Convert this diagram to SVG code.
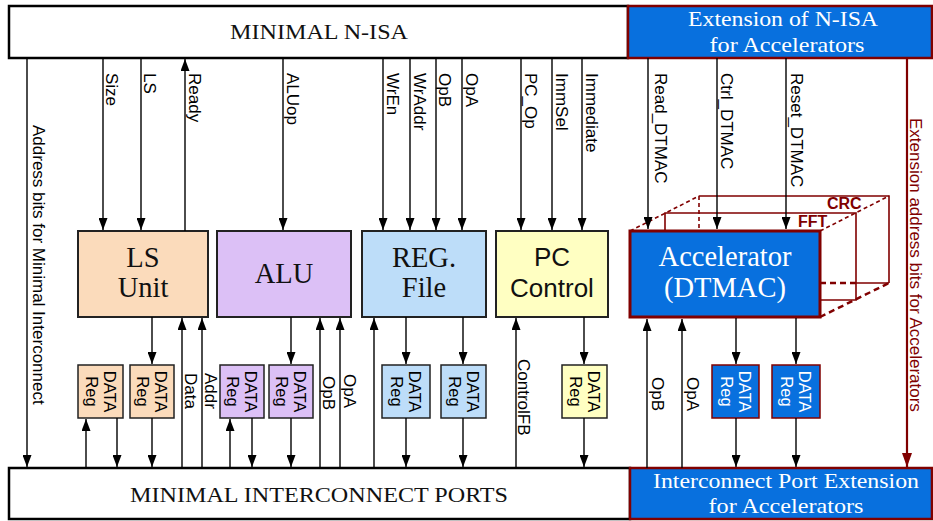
<svg xmlns="http://www.w3.org/2000/svg" width="933" height="521" viewBox="0 0 933 521">
<defs>
<marker id="ah" markerUnits="userSpaceOnUse" markerWidth="12" markerHeight="9" refX="12" refY="4.5" orient="auto" viewBox="0 0 12 9"><path d="M0,0 L12,4.5 L0,9 z" fill="#000"/></marker>
<marker id="ahr" markerUnits="userSpaceOnUse" markerWidth="14" markerHeight="10" refX="14" refY="5" orient="auto" viewBox="0 0 14 10"><path d="M0,0 L14,5 L0,10 z" fill="#800000"/></marker>
</defs>
<style>
.w{stroke:#000;stroke-width:1.4;fill:none}
.a{marker-end:url(#ah)}
.lbl{font-family:"Liberation Sans",Arial,sans-serif;font-size:17px;fill:#000}
.rl{font-family:"Liberation Sans",Arial,sans-serif;font-size:16.5px;text-anchor:middle}
.ser{font-family:"Liberation Serif","Times New Roman",serif}
.unit{stroke:#222;stroke-width:2}
.reg{stroke:#222;stroke-width:1.5}
.ut{font-size:28.5px;text-anchor:middle;fill:#111}
.bar{font-size:21px;text-anchor:middle}
.blue{fill:#0870DE;stroke:#800000}
.d3{stroke:#800000;stroke-width:1.6;fill:none}
.dash{stroke-dasharray:4 3}
.dk{stroke-dasharray:6 4;stroke-width:2.5}
.tag{font-family:"Liberation Sans",Arial,sans-serif;font-weight:bold;font-size:16px;fill:#800000}
</style>
<rect width="933" height="521" fill="#fff"/>

<g id="minimal-nisa">
<rect x="9" y="6" width="619" height="52" fill="#fff" stroke="#000" stroke-width="2.5"/>
<text class="ser bar" x="319" y="39" textLength="178" lengthAdjust="spacingAndGlyphs" fill="#111">MINIMAL N-ISA</text>
</g>
<g id="ext-nisa">
<rect class="blue" x="628" y="6" width="304" height="52" stroke-width="2.5"/>
<text class="ser bar" x="783" y="26" textLength="190" lengthAdjust="spacingAndGlyphs" fill="#fff">Extension of N-ISA</text>
<text class="ser bar" x="787" y="52" textLength="155" lengthAdjust="spacingAndGlyphs" fill="#fff">for Accelerators</text>
</g>
<g id="minimal-ports">
<rect x="9" y="468" width="621" height="51" fill="#fff" stroke="#000" stroke-width="2.5"/>
<text class="ser bar" x="319" y="502" textLength="378" lengthAdjust="spacingAndGlyphs" fill="#111">MINIMAL INTERCONNECT PORTS</text>
</g>
<g id="ext-ports">
<rect class="blue" x="630" y="468" width="302" height="51" stroke-width="2.5"/>
<text class="ser bar" x="786" y="488" textLength="266" lengthAdjust="spacingAndGlyphs" fill="#fff">Interconnect Port Extension</text>
<text class="ser bar" x="786" y="513" textLength="155" lengthAdjust="spacingAndGlyphs" fill="#fff">for Accelerators</text>
</g>

<g id="accel-stack">
<path class="d3" d="M699,196 H889 V283 M856,283 H889"/>
<path class="d3 dash" d="M699,196 V231 M630,231 L699,196 M820,231 L889,196"/>
<path class="d3" d="M665,231 V213 H856 V300 H820"/>
<path class="d3 dk" d="M820,283 H856 M820,317 L889,283"/>
<text class="tag" x="827" y="209">CRC</text>
<text class="tag" x="798" y="227">FFT</text>
</g>

<g id="ls-unit">
<rect class="unit" x="78" y="231" width="130" height="86" fill="#FBDBBB"/>
<text class="ser ut" x="143" y="267">LS</text>
<text class="ser ut" x="143" y="297">Unit</text>
</g>
<g id="alu">
<rect class="unit" x="217" y="231" width="134" height="86" fill="#DCC0F6"/>
<text class="ser ut" x="284" y="283">ALU</text>
</g>
<g id="reg-file">
<rect class="unit" x="362" y="231" width="124" height="86" fill="#BDDDF9"/>
<text class="ser ut" x="424" y="267">REG.</text>
<text class="ser ut" x="424" y="297">File</text>
</g>
<g id="pc-control">
<rect class="unit" x="496" y="231" width="112" height="86" fill="#FFFFC2"/>
<text class="ut" x="552" y="266" style="font-family:'Liberation Sans',Arial,sans-serif;font-size:26px">PC</text>
<text class="ut" x="552" y="297" style="font-family:'Liberation Sans',Arial,sans-serif;font-size:26px">Control</text>
</g>
<g id="accelerator">
<rect class="blue" x="630" y="231" width="190" height="86" stroke-width="3"/>
<text class="ser ut" x="725" y="266" style="fill:#fff">Accelerator</text>
<text class="ser ut" x="725" y="297" style="fill:#fff">(DTMAC)</text>
</g>

<g id="ls-reg1"><rect class="reg" x="78" y="365" width="45" height="53" fill="#FBDBBB"/><text class="rl" transform="translate(103.5,391.5) rotate(90)">DATA<tspan x="0" dy="18">Reg</tspan></text></g>
<g id="ls-reg2"><rect class="reg" x="130" y="365" width="44" height="53" fill="#FBDBBB"/><text class="rl" transform="translate(155,391.5) rotate(90)">DATA<tspan x="0" dy="18">Reg</tspan></text></g>
<g id="alu-reg1"><rect class="reg" x="220" y="365" width="44" height="53" fill="#DCC0F6"/><text class="rl" transform="translate(245,391.5) rotate(90)">DATA<tspan x="0" dy="18">Reg</tspan></text></g>
<g id="alu-reg2"><rect class="reg" x="269" y="365" width="44" height="53" fill="#DCC0F6"/><text class="rl" transform="translate(294,391.5) rotate(90)">DATA<tspan x="0" dy="18">Reg</tspan></text></g>
<g id="reg-reg1"><rect class="reg" x="382" y="365" width="48" height="53" fill="#BDDDF9"/><text class="rl" transform="translate(409,391.5) rotate(90)">DATA<tspan x="0" dy="18">Reg</tspan></text></g>
<g id="reg-reg2"><rect class="reg" x="441" y="365" width="45" height="53" fill="#BDDDF9"/><text class="rl" transform="translate(466.5,391.5) rotate(90)">DATA<tspan x="0" dy="18">Reg</tspan></text></g>
<g id="pc-reg"><rect class="reg" x="562" y="365" width="45" height="53" fill="#FFFFC2"/><text class="rl" transform="translate(587.5,391.5) rotate(90)">DATA<tspan x="0" dy="18">Reg</tspan></text></g>
<g id="acc-reg1"><rect class="reg blue" x="712" y="365" width="47" height="53" style="stroke:#800000"/><text class="rl" fill="#fff" transform="translate(738.5,391.5) rotate(90)">DATA<tspan x="0" dy="18">Reg</tspan></text></g>
<g id="acc-reg2"><rect class="reg blue" x="772" y="365" width="48" height="53" style="stroke:#800000"/><text class="rl" fill="#fff" transform="translate(799,391.5) rotate(90)">DATA<tspan x="0" dy="18">Reg</tspan></text></g>

<g id="connectors">
<line class="w a" x1="27" y1="58" x2="27" y2="467"/>
<line x1="907" y1="58" x2="907" y2="467" stroke="#800000" stroke-width="2.2" marker-end="url(#ahr)"/>
<line class="w a" x1="103" y1="58" x2="103" y2="230"/>
<line class="w a" x1="141" y1="58" x2="141" y2="230"/>
<line class="w a" x1="185" y1="231" x2="185" y2="59"/>
<line class="w a" x1="283" y1="58" x2="283" y2="230"/>
<line class="w a" x1="383" y1="58" x2="383" y2="230"/>
<line class="w a" x1="410" y1="58" x2="410" y2="230"/>
<line class="w a" x1="436" y1="58" x2="436" y2="230"/>
<line class="w a" x1="462" y1="58" x2="462" y2="230"/>
<line class="w a" x1="521" y1="58" x2="521" y2="230"/>
<line class="w a" x1="552" y1="58" x2="552" y2="230"/>
<line class="w a" x1="582" y1="58" x2="582" y2="230"/>
<line class="w a" x1="648" y1="58" x2="648" y2="229"/>
<line class="w a" x1="717" y1="58" x2="717" y2="229"/>
<line class="w a" x1="786" y1="58" x2="786" y2="229"/>
<line class="w a" x1="152" y1="317" x2="152" y2="364"/>
<line class="w a" x1="291" y1="317" x2="291" y2="364"/>
<line class="w a" x1="406" y1="317" x2="406" y2="364"/>
<line class="w a" x1="463" y1="317" x2="463" y2="364"/>
<line class="w a" x1="584" y1="317" x2="584" y2="364"/>
<line class="w a" x1="736" y1="318" x2="736" y2="364"/>
<line class="w a" x1="796" y1="318" x2="796" y2="364"/>
<line class="w a" x1="117" y1="418" x2="117" y2="467"/>
<line class="w a" x1="152" y1="418" x2="152" y2="467"/>
<line class="w a" x1="252" y1="418" x2="252" y2="467"/>
<line class="w a" x1="291" y1="418" x2="291" y2="467"/>
<line class="w a" x1="406" y1="418" x2="406" y2="467"/>
<line class="w a" x1="463" y1="418" x2="463" y2="467"/>
<line class="w a" x1="584" y1="418" x2="584" y2="467"/>
<line class="w a" x1="736" y1="418" x2="736" y2="467"/>
<line class="w a" x1="796" y1="418" x2="796" y2="467"/>
<line class="w a" x1="86" y1="468" x2="86" y2="419"/>
<line class="w a" x1="230" y1="468" x2="230" y2="419"/>
<line class="w a" x1="182" y1="468" x2="182" y2="318"/>
<line class="w a" x1="202" y1="468" x2="202" y2="318"/>
<line class="w a" x1="320" y1="468" x2="320" y2="318"/>
<line class="w a" x1="340" y1="468" x2="340" y2="318"/>
<line class="w a" x1="374" y1="468" x2="374" y2="318"/>
<line class="w a" x1="516" y1="468" x2="516" y2="318"/>
<line class="w a" x1="647" y1="468" x2="647" y2="319"/>
<line class="w a" x1="682" y1="468" x2="682" y2="319"/>
</g>

<g id="labels" class="lbl">
<text transform="translate(33,125) rotate(90)">Address bits for Minimal Interconnect</text>
<text transform="translate(909.5,118) rotate(90)" fill="#800000">Extension address bits for Accelerators</text>
<text transform="translate(105.5,73) rotate(90)">Size</text>
<text transform="translate(143.5,73) rotate(90)">LS</text>
<text transform="translate(189,73) rotate(90)">Ready</text>
<text transform="translate(287,73) rotate(90)">ALUop</text>
<text transform="translate(387,73) rotate(90)">WrEn</text>
<text transform="translate(413.5,73) rotate(90)">WrAddr</text>
<text transform="translate(439,73) rotate(90)">OpB</text>
<text transform="translate(466,73) rotate(90)">OpA</text>
<text transform="translate(525,73) rotate(90)">PC_Op</text>
<text transform="translate(556,73) rotate(90)">ImmSel</text>
<text transform="translate(586,73) rotate(90)">Immediate</text>
<text transform="translate(655,73) rotate(90)">Read_DTMAC</text>
<text transform="translate(721,73) rotate(90)">Ctrl_DTMAC</text>
<text transform="translate(791,73) rotate(90)">Reset_DTMAC</text>
<text transform="translate(185,373) rotate(90)">Data</text>
<text transform="translate(204.5,373) rotate(90)">Addr</text>
<text transform="translate(323,376) rotate(90)">OpB</text>
<text transform="translate(344,374) rotate(90)">OpA</text>
<text transform="translate(518,359) rotate(90)">ControlFB</text>
<text transform="translate(651.5,377) rotate(90)">OpB</text>
<text transform="translate(686.5,377) rotate(90)">OpA</text>
</g>
</svg>
